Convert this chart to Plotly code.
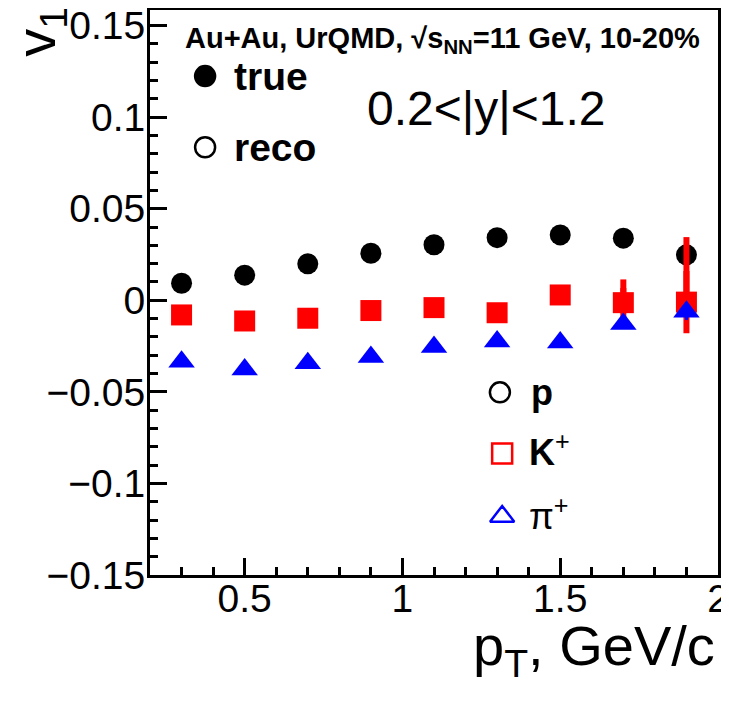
import plotly.graph_objects as go

pt = [0.3, 0.5, 0.7, 0.9, 1.1, 1.3, 1.5, 1.7, 1.9]

p_true = [0.0093, 0.0137, 0.0199, 0.0257, 0.0303, 0.0342, 0.0357, 0.0339, 0.0248]
p_reco = [0.0089, 0.0132, 0.0197, 0.0254, 0.0301, 0.0341, 0.0356, 0.0337, 0.0232]
p_err = [0.001, 0.001, 0.001, 0.001, 0.001, 0.001, 0.001, 0.002, 0.004]

k_true = [-0.0080, -0.0113, -0.0098, -0.0056, -0.0040, -0.0068, 0.0029, -0.0013, -0.0010]
k_reco = [-0.0084, -0.0116, -0.0100, -0.0061, -0.0043, -0.0078, 0.0027, 0.0024, 0.0155]
k_err_true = [0.001, 0.001, 0.001, 0.001, 0.001, 0.001, 0.002, 0.008, 0.017]
k_err_reco = [0.001, 0.001, 0.001, 0.001, 0.001, 0.001, 0.002, 0.009, 0.019]

pi_true = [-0.0335, -0.0378, -0.0344, -0.0309, -0.0255, -0.0225, -0.0230, -0.0129, -0.0062]
pi_reco = [-0.0338, -0.0380, -0.0347, -0.0311, -0.0257, -0.0228, -0.0242, -0.0131, -0.0068]
pi_err = [0.001, 0.001, 0.001, 0.001, 0.001, 0.001, 0.001, 0.002, 0.004]

FONT = "Liberation Sans"
RED = "#ff0000"
BLUE = "#0000ff"

fig = go.Figure()


def add(y, err, color, symbol, open_, thick, size=21):
    fig.add_trace(go.Scatter(
        x=pt, y=y, mode="markers",
        error_y=dict(type="data", array=err, color=color, thickness=thick, width=0),
        marker=dict(symbol=symbol + ("-open" if open_ else ""), size=size,
                    color=color if not open_ else "rgba(0,0,0,0)",
                    line=dict(color=color, width=2.5 if open_ else 0)),
        showlegend=False, cliponaxis=False))


add(p_reco, p_err, "black", "circle", True, 2)
add(p_true, p_err, "black", "circle", False, 2)
add(k_reco, k_err_reco, RED, "square", True, 6)
add(k_true, k_err_true, RED, "square", False, 6)
add(pi_reco, pi_err, BLUE, "triangle-up", True, 3, 23)
add(pi_true, pi_err, BLUE, "triangle-up", False, 3, 23)

# legend symbols on an overlay axis in fraction-of-plot units
leg_x = [0.097, 0.097, 0.616, 0.620, 0.620]
leg_y = [0.883, 0.757, 0.3233, 0.2152, 0.1036]
leg_sym = ["circle", "circle-open", "circle-open", "square-open", "triangle-up-open"]
leg_col = ["black", "black", "black", RED, BLUE]
for lx, ly, s, c in zip(leg_x, leg_y, leg_sym, leg_col):
    fig.add_trace(go.Scatter(
        x=[lx], y=[ly], mode="markers", xaxis="x2", yaxis="y2",
        marker=dict(symbol=s, size=20 if "triangle" not in s else 21,
                    color=c, line=dict(color=c, width=2.5)),
        showlegend=False, cliponaxis=False))

ann = [
    dict(text="<b>Au+Au, UrQMD, √s<sub>NN</sub>=11 GeV, 10-20%</b>", x=0.515, y=0.947,
         xanchor="center", yanchor="middle", font=dict(size=29)),
    dict(text="<b>true</b>", x=0.145, y=0.883, xanchor="left", yanchor="middle", font=dict(size=39)),
    dict(text="<b>reco</b>", x=0.145, y=0.757, xanchor="left", yanchor="middle", font=dict(size=39)),
    dict(text="0.2<|y|<1.2", x=0.3785, y=0.8264, xanchor="left", yanchor="middle", font=dict(size=48)),
    dict(text="<b>p</b>", x=0.667, y=0.3235, xanchor="left", yanchor="middle", font=dict(size=36)),
    dict(text="<b>K</b><sup>+</sup>", x=0.664, y=0.2205, xanchor="left", yanchor="middle", font=dict(size=36)),
    dict(text="π<sup>+</sup>", x=0.664, y=0.1077, xanchor="left", yanchor="middle", font=dict(size=36)),
    dict(text="p<sub>T</sub>, GeV/c", x=0.999, y=-0.132, xanchor="right", yanchor="middle",
         font=dict(size=56)),
    dict(text="v<sub>1</sub>", x=-0.195, y=0.962, xanchor="center", yanchor="middle",
         textangle=-90, font=dict(size=56)),
]
for a in ann:
    a.update(xref="paper", yref="paper", showarrow=False)
    a["font"].update(family=FONT, color="black")

axis_common = dict(showline=True, linewidth=3, linecolor="black", mirror=True,
                   ticks="inside", tickwidth=3, ticklen=17, tickcolor="black",
                   showgrid=False, zeroline=False, automargin=False,
                   ticklabeloverflow="allow",
                   tickfont=dict(family=FONT, size=39, color="black"))

# page body has an 8px margin, so the figure is 721x694 with offsets compensated
fig.update_layout(
    width=721, height=694,
    margin=dict(l=142, r=11, t=2, b=127, autoexpand=False),
    paper_bgcolor="white", plot_bgcolor="white",
    font=dict(family=FONT, color="black"),
    xaxis=dict(range=[0.2, 2.0], tickvals=[0.5, 1, 1.5, 2], ticktext=["0.5", "1", "1.5", "2"],
               minor=dict(dtick=0.1, tick0=0.2, ticks="inside", ticklen=8, tickwidth=3, tickcolor="black"),
               ticklabelstandoff=-13, **axis_common),
    yaxis=dict(range=[-0.15, 0.1585], tickvals=[-0.15, -0.1, -0.05, 0, 0.05, 0.1, 0.15],
               ticktext=["\u22120.15", "\u22120.1", "\u22120.05", "0", "0.05", "0.1", "0.15"],
               minor=dict(dtick=0.01, tick0=0, ticks="inside", ticklen=8, tickwidth=3, tickcolor="black"),
               ticklabelstandoff=-6, **axis_common),
    xaxis2=dict(overlaying="x", anchor="y2", range=[0, 1], visible=False),
    yaxis2=dict(overlaying="y", anchor="x2", range=[0, 1], visible=False),
    annotations=ann,
)

fig.write_html("out.html")
